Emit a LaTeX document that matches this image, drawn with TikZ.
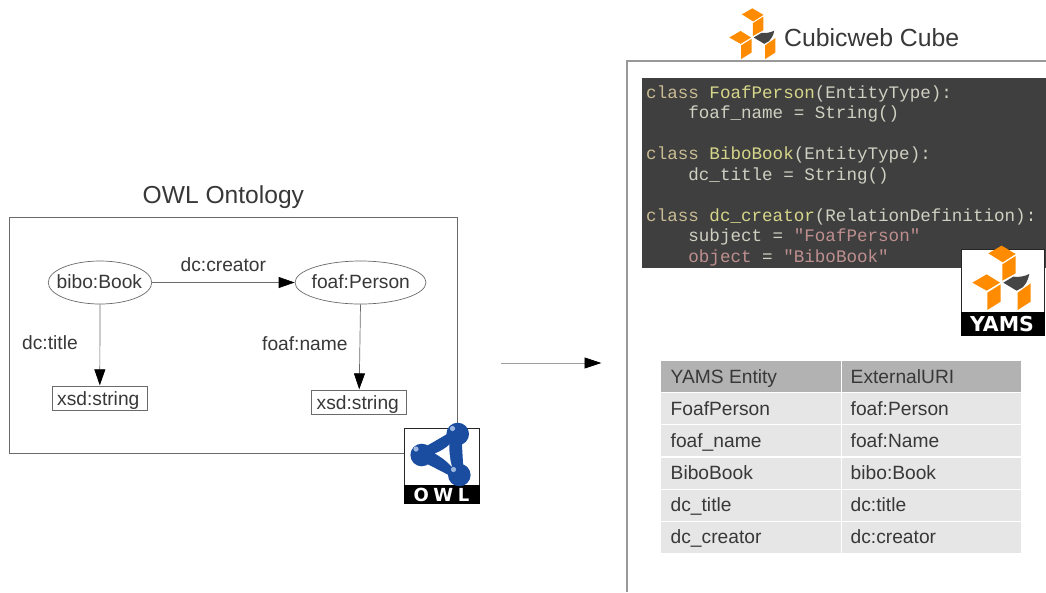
\documentclass[tikz,border=0pt]{standalone}
\usepackage{fontspec}
\setmainfont{Liberation Sans}
\newfontfamily\codefont{Liberation Mono}
\newfontfamily\logofont{DejaVu Sans}
\usetikzlibrary{arrows.meta,shapes.geometric}
\definecolor{txt}{HTML}{383838}
\definecolor{cubeorange}{HTML}{FF8C00}
\definecolor{cubedark}{HTML}{454545}
\definecolor{codebg}{HTML}{3F3F3F}
\definecolor{codefg}{HTML}{CFCFC2}
\definecolor{codekw}{HTML}{C9BB92}
\definecolor{codefn}{HTML}{D6D68A}
\definecolor{codestr}{HTML}{BF8F8F}
\definecolor{tabhead}{HTML}{B2B2B2}
\definecolor{tabrow}{HTML}{E6E6E6}
\definecolor{owlblue}{HTML}{1A4CA0}
\definecolor{owllight}{HTML}{9DB8E0}
\definecolor{thinline}{HTML}{6A6A6A}
\tikzset{
  lbl/.style={font=\fontsize{19.2}{23}\selectfont,text=txt,inner sep=0pt,anchor=base west},
  title/.style={font=\fontsize{24.6}{29}\selectfont,text=txt,inner sep=0pt,anchor=base west},
  code/.style={font=\codefont\fontsize{17.57}{20}\selectfont,text=codefg,inner sep=0pt,anchor=base west},
  class/.style={draw=thinline,line width=0.7pt,ellipse,inner sep=0pt},
  literal/.style={draw=thinline,line width=0.7pt,fill=white,inner sep=0pt,minimum width=95pt,minimum height=24pt},
  edge/.style={draw=thinline,line width=0.7pt,-{Triangle[length=16pt,width=11pt,color=black]}},
  cell/.style={inner sep=0pt,anchor=north west},
}
\newcommand{\cubelogo}[3]{%
  \begin{scope}[shift={(#1,#2)},scale=#3]
    \fill[cubeorange] (1105,760) -- (1145,737) -- (1187,762) -- (1148,787) -- cycle;
    \fill[cubeorange] (1147,793) -- (1187,768) -- (1187,820) -- (1147,842) -- cycle;
    \fill[cubeorange] (1057,848) -- (1100,823) -- (1140,848) -- (1100,872) -- cycle;
    \fill[cubeorange] (1102,878) -- (1142,853) -- (1142,905) -- (1102,930) -- cycle;
    \fill[cubeorange] (1193,878) -- (1232,850) -- (1232,905) -- (1193,930) -- cycle;
    \fill[cubedark] (1150,848) -- (1180,830) .. controls (1195,832) and (1212,830) .. (1228,822)
      .. controls (1224,840) and (1218,852) .. (1208,862) -- (1190,872) -- cycle;
  \end{scope}}
\begin{document}
\begin{tikzpicture}[x=1pt,y=-1pt]
\useasboundingbox (0,0) rectangle (1046,592);
\fill[white] (0,0) rectangle (1046,592);

% ---------- left: ontology
\node[title] (owltitle) at (142.5,203.5) {OWL Ontology};
\node[draw=thinline,line width=0.7pt,inner sep=0pt,minimum width=448pt,minimum height=236pt] (owlframe) at (233.3,335.7) {};

\node[class,minimum width=103.5pt,minimum height=43pt] (bibo) at (100,282.5) {};
\node[lbl] (bibotext) at (56.5,288.5) {bibo:Book};
\node[class,minimum width=131pt,minimum height=43pt] (foaf) at (360.5,282.5) {};
\node[lbl] (foaftext) at (311.5,288.5) {foaf:Person};
\node[literal] (xsda) at (99.8,398.7) {};
\node[lbl] (xsdatext) at (57,405) {xsd:string};
\node[literal] (xsdb) at (359.2,402.7) {};
\node[lbl] (xsdbtext) at (316.5,409.5) {xsd:string};

\draw[edge] (bibo) -- (foaf);
\draw[edge,shorten >=1pt] (bibo.south) -- (xsda.north);
\draw[edge,shorten >=1pt] (foaf.south) -- (xsdb.north);
\node[lbl] (creatorlbl) at (180.5,271) {dc:creator};
\node[lbl] (titlelbl) at (22,349.5) {dc:title};
\node[lbl] (namelbl) at (262,350) {foaf:name};

% ---------- OWL logo
\node[draw=black!85,line width=1pt,fill=white,inner sep=0pt,minimum width=75pt,minimum height=57pt] (owlbox) at (442,457) {};
\node[fill=black,inner sep=0pt,minimum width=76pt,minimum height=19pt] (owlband) at (442,494) {};
\draw[owlblue,fill=owlblue,line width=13pt,line join=round] (424,455) -- (455,437) -- (457,472) -- cycle;
\fill[white] (435,453.5) .. controls (441,451) and (446,448) .. (449.5,444.5) .. controls (449,452) and (450,460) .. (452,467) .. controls (447,461) and (441,457) .. (435,453.5) -- cycle;
\fill[owlblue] (457.7,434) circle (11.3);
\fill[owlblue] (421.7,455) circle (11.3);
\fill[owlblue] (459.3,475) circle (11.3);
\fill[owllight] (452.5,428.5) circle (2.6);
\fill[owllight] (416,449) circle (2.6);
\fill[owllight] (453.5,469.5) circle (2.6);
\node[inner sep=0pt,text=white,font=\logofont\bfseries\fontsize{18}{20}\selectfont] (owltext) at (441.5,494.5) {O\hspace{4.5pt}W\hspace{4.5pt}L};

% ---------- centre arrow
\coordinate (arrowfrom) at (501,363);
\coordinate (arrowto) at (601.5,363);
\draw[draw=black!38,line width=0.9pt,-{Triangle[length=17pt,width=11pt,color=black]}] (arrowfrom) -- (arrowto);

% ---------- right: cube
\cubelogo{451.3}{-185.5}{0.263}
\node[title,font=\fontsize{24.8}{29}\selectfont] (cubetitle) at (784,46) {Cubicweb Cube};
\coordinate (cubetr) at (1046,61);
\coordinate (cubetl) at (627,61);
\coordinate (cubebl) at (627,592);
\draw[draw=black!40,line width=1.1pt] (cubetr) -- (cubetl) -- (cubebl);

\node[fill=codebg,inner sep=0pt,minimum width=404pt,minimum height=190pt] (codepanel) at (844,173) {};
\node[code] (c1) at (646,98) {\textcolor{codekw}{class} \textcolor{codefn}{FoafPerson}(EntityType):};
\node[code] (c2) at (688.2,118.5) {foaf\_name = String()};
\node[code] (c3) at (646,159) {\textcolor{codekw}{class} \textcolor{codefn}{BiboBook}(EntityType):};
\node[code] (c4) at (688.2,180) {dc\_title = String()};
\node[code] (c5) at (646,221) {\textcolor{codekw}{class} \textcolor{codefn}{dc\_creator}(RelationDefinition):};
\node[code] (c6) at (688.2,241.5) {subject = \textcolor{codestr}{"FoafPerson"}};
\node[code] (c7) at (688.2,262) {\textcolor{codestr}{object} = \textcolor{codestr}{"BiboBook"}};

% ---------- YAMS logo
\node[draw=black!85,line width=1pt,fill=white,inner sep=0pt,minimum width=83pt,minimum height=64pt] (yamsbox) at (1002.5,281) {};
\node[fill=black,inner sep=0pt,minimum width=84pt,minimum height=24pt] (yamsband) at (1002.5,324) {};
\cubelogo{620}{0}{0.33333}
\node[inner sep=0pt,text=white,font=\logofont\bfseries\fontsize{20.5}{24}\selectfont] (yamstext) at (1002,324.5) {YAMS};

% ---------- table
\node[cell,fill=tabhead,minimum width=180pt,minimum height=30.5pt] (h1) at (661,361) {};
\node[cell,fill=tabhead,minimum width=179pt,minimum height=30.5pt] (h2) at (842,361) {};
\node[cell,fill=tabrow,minimum width=180pt,minimum height=30.5pt] (a1) at (661,393) {};
\node[cell,fill=tabrow,minimum width=179pt,minimum height=30.5pt] (b1) at (842,393) {};
\node[cell,fill=tabrow,minimum width=180pt,minimum height=31pt] (a2) at (661,425) {};
\node[cell,fill=tabrow,minimum width=179pt,minimum height=31pt] (b2) at (842,425) {};
\node[cell,fill=tabrow,minimum width=180pt,minimum height=31pt] (a3) at (661,457.5) {};
\node[cell,fill=tabrow,minimum width=179pt,minimum height=31pt] (b3) at (842,457.5) {};
\node[cell,fill=tabrow,minimum width=180pt,minimum height=30.5pt] (a4) at (661,490) {};
\node[cell,fill=tabrow,minimum width=179pt,minimum height=30.5pt] (b4) at (842,490) {};
\node[cell,fill=tabrow,minimum width=180pt,minimum height=31pt] (a5) at (661,521.5) {};
\node[cell,fill=tabrow,minimum width=179pt,minimum height=31pt] (b5) at (842,521.5) {};
\node[lbl] (th1) at (670.5,383) {YAMS Entity};
\node[lbl] (th2) at (850.5,383) {ExternalURI};
\node[lbl] (ta1) at (670.5,415.5) {FoafPerson};
\node[lbl] (tb1) at (850.5,415.5) {foaf:Person};
\node[lbl] (ta2) at (670.5,447.5) {foaf\_name};
\node[lbl] (tb2) at (850.5,447.5) {foaf:Name};
\node[lbl] (ta3) at (670.5,479) {BiboBook};
\node[lbl] (tb3) at (850.5,479) {bibo:Book};
\node[lbl] (ta4) at (670.5,511.5) {dc\_title};
\node[lbl] (tb4) at (850.5,511.5) {dc:title};
\node[lbl] (ta5) at (670.5,543.5) {dc\_creator};
\node[lbl] (tb5) at (850.5,543.5) {dc:creator};
\end{tikzpicture}
\end{document}
